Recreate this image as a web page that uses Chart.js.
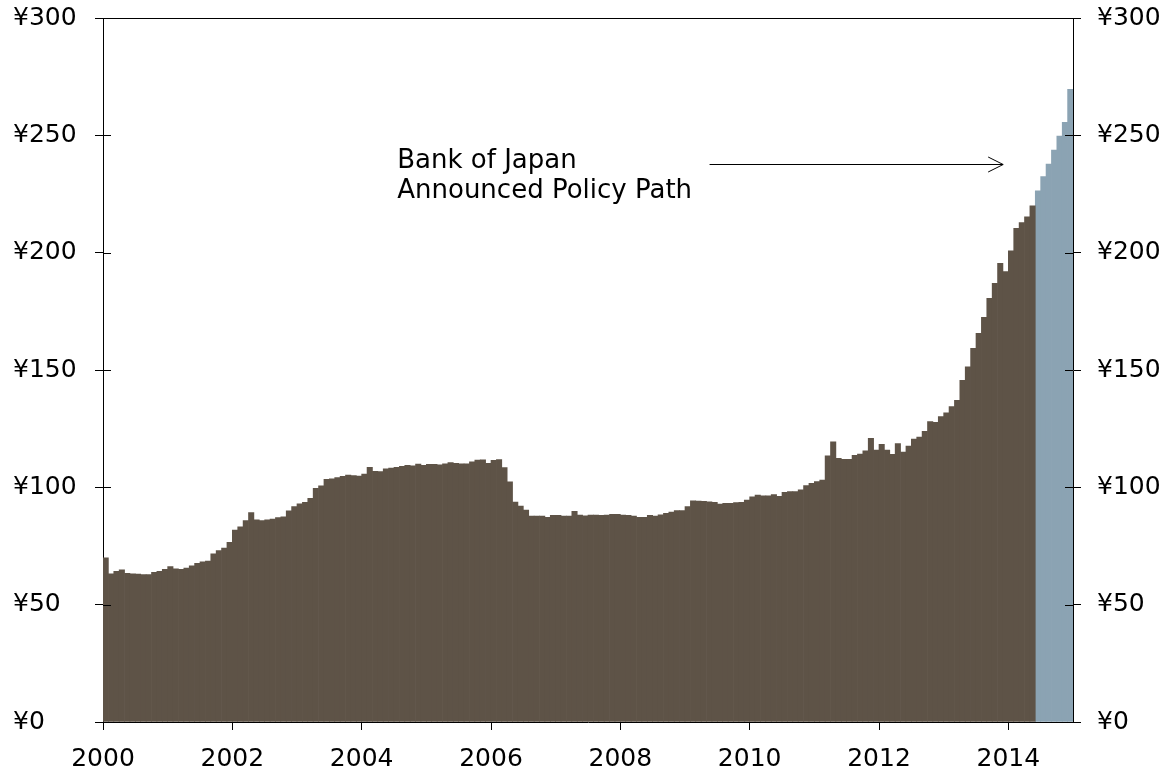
<!DOCTYPE html>
<html>
<head>
<meta charset="utf-8">
<script src="https://cdn.jsdelivr.net/npm/chart.js@4.4.1/dist/chart.umd.min.js"></script>
<style>
html,body{margin:0;padding:0;background:#ffffff;}
#wrap{width:1163px;height:779px;}
</style>
</head>
<body>
<div id="wrap"><canvas id="c" width="1163" height="779"></canvas></div>
<script>
// ---- data (trillions of yen, monthly, Jan 2000 onward) ----
const startYear = 2000;
const endYear = 2015;
const monthlyBase = [
  70.0, 63.1, 64.2, 64.8, 63.4, 63.1, 63.0, 62.8, 62.8, 63.8, 64.2, 65.1,
  66.2, 65.3, 65.1, 65.6, 66.6, 67.6, 68.3, 68.6, 71.7, 73.0, 74.1, 76.6,
  81.8, 83.2, 85.8, 89.2, 86.1, 85.8, 86.1, 86.5, 87.1, 87.4, 90.0, 91.8,
  93.0, 93.6, 95.3, 99.6, 100.6, 103.4, 103.6, 104.2, 104.7, 105.2, 105.0, 104.8,
  105.7, 108.5, 106.8, 106.7, 107.9, 108.2, 108.5, 109.0, 109.4, 109.2, 109.9, 109.4,
  109.8, 109.8, 109.6, 110.0, 110.5, 110.2, 110.0, 110.0, 110.9, 111.6, 111.7, 110.2,
  111.5, 111.8, 108.4, 102.3, 93.7, 92.0, 90.3, 87.8, 87.8, 87.7, 87.2, 88.1,
  88.1, 87.8, 87.7, 89.8, 88.2, 87.9, 88.2, 88.2, 88.1, 88.2, 88.5, 88.5,
  88.2, 88.1, 87.8, 87.2, 87.2, 88.1, 87.8, 88.3, 88.9, 89.5, 90.1, 90.1,
  91.8, 94.3, 94.1, 94.0, 93.8, 93.6, 92.9, 93.2, 93.2, 93.5, 93.6, 94.6,
  96.0, 96.7, 96.4, 96.4, 96.9, 96.2, 97.9, 98.2, 98.2, 98.9, 100.7, 101.7,
  102.4, 103.1, 113.4, 119.4, 112.4, 111.9, 111.9, 113.6, 114.2, 115.6, 120.9, 115.9,
  118.3, 115.9, 114.1, 118.6, 115.0, 117.6, 120.6, 121.4, 123.9, 128.0, 127.7, 130.1,
  131.8, 134.4, 137.1, 145.6, 151.3, 159.2, 165.6, 172.4, 180.5, 186.9, 195.5, 191.9,
  200.8, 210.4, 212.8, 215.3, 220.0
];
const policyPath = [226.3, 232.4, 237.8, 243.7, 249.7, 255.5, 269.6];
const yTickValues = [0, 50, 100, 150, 200, 250, 300];
const yearTickValues = [2000, 2002, 2004, 2006, 2008, 2010, 2012, 2014];
const annotationLines = ["Bank of Japan", "Announced Policy Path"];
const annotationTextAt = { year: 2004.55, value: 236.1 };
const arrowFrom = { year: 2009.38, value: 237.8 };
const arrowTo = { year: 2013.92, value: 237.8 };

// ---- categories ----
const monthLabels = [];
const totalMonths = monthlyBase.length + policyPath.length;
for (let i = 0; i < totalMonths; i++) {
  monthLabels.push((startYear + Math.floor(i / 12)) + '-' + String(i % 12 + 1).padStart(2, '0'));
}
const historySeries = monthlyBase.concat(policyPath.map(() => null));
const pathSeries = monthlyBase.map(() => null).concat(policyPath);

const FONT = '"DejaVu Sans", Verdana, sans-serif';
const TICK_FONT_SIZE = 25;
const NOTE_FONT_SIZE = 26;
Chart.defaults.color = '#000000';
Chart.defaults.font.family = FONT;

const overlayPlugin = {
  id: 'overlay',
  afterDatasetsDraw(chart) {
    const { ctx, chartArea, scales } = chart;
    const xs = scales.xYear, ys = scales.y, ys2 = scales.y2;
    ctx.save();
    ctx.strokeStyle = '#000000';
    ctx.lineWidth = 1;
    ctx.beginPath();
    ys.ticks.forEach(t => {
      const py = Math.round(ys.getPixelForValue(t.value)) + 0.5;
      ctx.moveTo(chartArea.left, py); ctx.lineTo(chartArea.left + 8, py);
    });
    ys2.ticks.forEach(t => {
      const py = Math.round(ys2.getPixelForValue(t.value)) + 0.5;
      ctx.moveTo(chartArea.right - 8, py); ctx.lineTo(chartArea.right, py);
    });
    const topY = Math.round(chartArea.top) + 0.5;
    ctx.moveTo(chartArea.left, topY); ctx.lineTo(chartArea.right, topY);
    ctx.stroke();

    // annotation text
    ctx.font = NOTE_FONT_SIZE + 'px ' + FONT;
    ctx.fillStyle = '#000000';
    ctx.textAlign = 'left';
    ctx.textBaseline = 'alphabetic';
    const tx = xs.getPixelForValue(annotationTextAt.year);
    const ty = ys.getPixelForValue(annotationTextAt.value);
    annotationLines.forEach((s, i) => ctx.fillText(s, tx, ty + i * 30));

    // arrow
    const ax0 = xs.getPixelForValue(arrowFrom.year);
    const ax1 = xs.getPixelForValue(arrowTo.year);
    const ay = Math.round(ys.getPixelForValue(arrowFrom.value)) + 0.5;
    ctx.beginPath();
    ctx.moveTo(ax0, ay); ctx.lineTo(ax1, ay);
    ctx.moveTo(ax1 - 15, ay - 7.5); ctx.lineTo(ax1, ay); ctx.lineTo(ax1 - 15, ay + 7.5);
    ctx.stroke();
    ctx.restore();
  }
};

const yAxisCommon = {
  type: 'linear',
  min: 0,
  max: 300,
  afterBuildTicks: s => { s.ticks = yTickValues.map(v => ({ value: v })); },
  grid: { drawOnChartArea: false, drawTicks: true, tickLength: 8, color: '#000000', lineWidth: 1 },
  border: { display: true, color: '#000000', width: 1 },
  afterFit: s => { s.width = 90; s.paddingTop = 0; s.paddingBottom = 0; }
};

new Chart(document.getElementById('c'), {
  type: 'bar',
  data: {
    labels: monthLabels,
    datasets: [
      { label: 'Monetary base', data: historySeries, backgroundColor: '#5e5347', borderWidth: 0, xAxisID: 'x', yAxisID: 'y' },
      { label: 'Announced policy path', data: pathSeries, backgroundColor: '#8ba3b3', borderWidth: 0, xAxisID: 'x', yAxisID: 'y' }
    ]
  },
  options: {
    responsive: false,
    animation: false,
    devicePixelRatio: 1,
    layout: { padding: { left: 13, right: 0, top: 18, bottom: 0 } },
    datasets: { bar: { barPercentage: 1, categoryPercentage: 1, grouped: false } },
    plugins: { legend: { display: false }, tooltip: { enabled: false } },
    scales: {
      x: { type: 'category', display: false, offset: true },
      xYear: {
        type: 'linear',
        position: 'bottom',
        min: startYear,
        max: endYear,
        offset: false,
        afterBuildTicks: s => { s.ticks = yearTickValues.map(v => ({ value: v })); },
        ticks: { font: { size: TICK_FONT_SIZE }, padding: 14, maxRotation: 0, autoSkip: false, callback: v => String(v) },
        grid: { offset: false, drawOnChartArea: false, drawTicks: true, tickLength: 8, color: '#000000' },
        border: { display: true, color: '#000000', width: 1 },
        afterFit: s => { s.height = 57; s.paddingLeft = 0; s.paddingRight = 0; }
      },
      y: Object.assign({}, yAxisCommon, {
        position: 'left',
        ticks: { font: { size: TICK_FONT_SIZE }, crossAlign: 'far', padding: 8, callback: v => '¥' + v }
      }),
      y2: Object.assign({}, yAxisCommon, {
        position: 'right',
        ticks: { font: { size: TICK_FONT_SIZE }, padding: 16, callback: v => '¥' + v }
      })
    }
  },
  plugins: [overlayPlugin]
});
</script>
</body>
</html>
